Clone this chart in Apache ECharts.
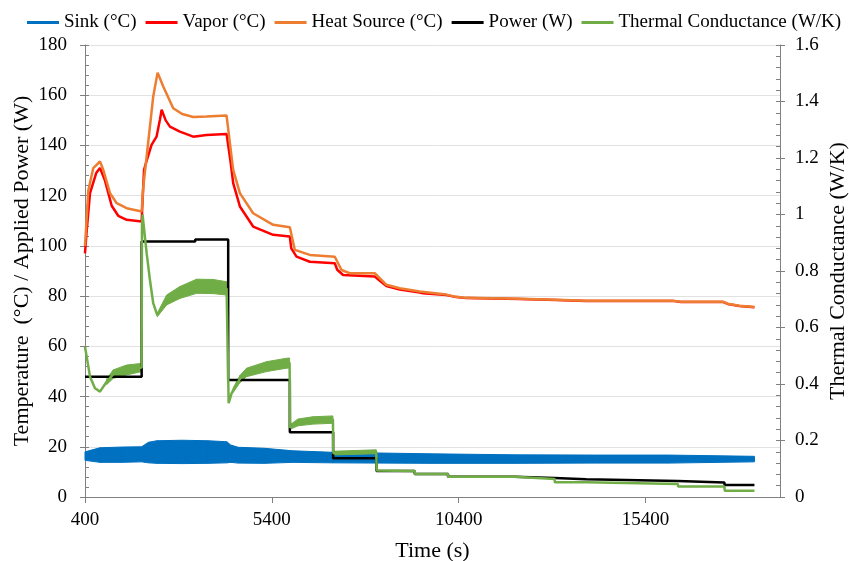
<!DOCTYPE html>
<html>
<head>
<meta charset="utf-8">
<script src="https://cdn.jsdelivr.net/npm/echarts@6/dist/echarts.min.js"></script>
<style>html,body{margin:0;padding:0;background:#fff}#c{width:849px;height:561px}</style>
</head>
<body>
<div id="c"></div>
<script>
// ---------- data ----------
const xTicks = [400, 5400, 10400, 15400];

const sinkT  = [400, 801, 1400, 1916, 2100, 2325, 3000, 3700, 4195, 4300, 4500, 5200, 5960, 7030, 9625, 11900, 14000, 16000, 18316];
const sinkLo = [14.6, 13.8, 13.8, 14.0, 13.6, 13.4, 13.3, 13.4, 13.6, 13.8, 13.5, 13.4, 13.8, 13.6, 13.4, 13.4, 13.5, 13.5, 14.0];
const sinkHi = [18.0, 19.6, 19.9, 20.0, 21.8, 22.4, 22.6, 22.4, 22.0, 20.7, 19.8, 19.4, 18.4, 17.8, 17.2, 16.8, 16.7, 16.7, 16.2];

const vaporT = [400, 445, 534, 700, 801, 935, 1114, 1290, 1515, 1916, 1940, 1980, 2031, 2181, 2315, 2405, 2451, 2560, 2673, 2940, 3296, 3654, 4189, 4232, 4300, 4366, 4545, 4900, 5435, 5882, 5920, 6061, 6417, 7085, 7150, 7307, 8155, 8300, 8467, 8823, 9358, 9447, 10070, 10337, 10600, 12030, 13000, 13813, 16130, 16350, 17470, 17600, 17910, 18316];
const vapor  = [97, 106, 121, 129, 131, 126, 116, 112, 110.4, 109.7, 118, 130.3, 133, 140.2, 143.5, 150.2, 154.2, 150, 147.5, 145.5, 143.5, 144.2, 144.6, 144, 133, 125, 115.7, 107.7, 104.4, 103.7, 99, 95.7, 93.7, 93.1, 90.5, 88.4, 87.8, 86, 84, 82.6, 81.4, 81.1, 80.4, 79.6, 79.2, 78.8, 78.5, 78.1, 78.1, 77.7, 77.7, 76.9, 76.1, 75.6];

const heatT = [400, 427, 488, 622, 801, 889, 1069, 1248, 1515, 1916, 1960, 2050, 2138, 2226, 2343, 2494, 2761, 3000, 3296, 3654, 4189, 4232, 4277, 4366, 4545, 4900, 5435, 5882, 6015, 6417, 7085, 7264, 7486, 8155, 8467, 8823, 9358, 10070, 10337, 10600, 12030, 13000, 13813, 16130, 16350, 17470, 17600, 17910, 18316];
const heat  = [100, 106.5, 122, 131, 133.6, 130.3, 121, 117, 115, 113.7, 123.6, 135.6, 147.5, 159.5, 169, 163.5, 154.8, 152.5, 151.3, 151.5, 151.9, 151.5, 141, 130.3, 121, 113, 108.4, 107.4, 98.4, 96.4, 95.7, 90.4, 89.1, 89.1, 84.5, 83.1, 81.8, 80.6, 79.7, 79.3, 78.9, 78.6, 78.2, 78.2, 77.8, 77.8, 77, 76.2, 75.7];

const powerT = [400, 1916, 3350, 4232, 5882, 7040, 8200, 9224, 10115, 11898, 12968, 13813, 16266, 17514, 18316];
const power  = [47.9, 101.7, 102.5, 46.6, 25.8, 15.4, 10.4, 9.2, 8.1, 7.6, 7.1, 6.4, 5.8, 4.8, 4.8];

const gcT = [400, 445, 534, 667, 801, 980, 1157, 1512, 1916, 1925, 1940, 2004, 2050, 2138, 2226, 2333, 2585, 2940, 3387, 3830, 4189, 4232, 4245, 4323, 4366, 4545, 4724, 5258, 5793, 5875, 5890, 6100, 6500, 7035, 7045, 8195, 8205, 9224, 9230, 10115, 10120, 11898, 11905, 12968, 12975, 13813, 13820, 16266, 16275, 17514, 17520, 18316];
const gc  = [0.532, 0.497, 0.426, 0.385, 0.373, 0.408, 0.435, 0.45, 0.458, 0.96, 1.0, 0.92, 0.863, 0.768, 0.686, 0.644, 0.698, 0.724, 0.746, 0.745, 0.738, 0.735, 0.332, 0.367, 0.378, 0.418, 0.441, 0.462, 0.474, 0.475, 0.245, 0.264, 0.271, 0.274, 0.155, 0.16, 0.094, 0.092, 0.081, 0.081, 0.072, 0.072, 0.065, 0.064, 0.052, 0.052, 0.045, 0.046, 0.037, 0.037, 0.022, 0.022];

// noisy envelope of the thermal conductance trace
const gbA_T = [980, 1157, 1512, 1916];
const gbA_lo = [0.398, 0.42, 0.432, 0.444];
const gbA_hi = [0.418, 0.45, 0.467, 0.473];
const gbB_T = [2333, 2585, 2940, 3387, 3830, 4189, 4232];
const gbB_lo = [0.638, 0.68, 0.703, 0.721, 0.72, 0.715, 0.713];
const gbB_hi = [0.65, 0.715, 0.745, 0.771, 0.77, 0.762, 0.76];
const gbC_T = [4366, 4545, 4724, 5258, 5793, 5875];
const gbC_lo = [0.37, 0.405, 0.426, 0.444, 0.456, 0.457];
const gbC_hi = [0.386, 0.43, 0.456, 0.479, 0.491, 0.492];
const gbD_T = [5890, 6100, 6500, 7035];
const gbD_lo = [0.24, 0.252, 0.258, 0.261];
const gbD_hi = [0.256, 0.276, 0.284, 0.287];
const gbE_T = [7045, 8195];
const gbE_lo = [0.149, 0.153];
const gbE_hi = [0.162, 0.167];

// ---------- chart ----------
const FONT = "'Liberation Serif', 'Times New Roman', serif";
const C = { sink: '#0070C0', vapor: '#FF0000', heat: '#ED7D31', power: '#000000', gc: '#70AD47' };
const AX = '#808080';
const zip = (t, v) => t.map((x, i) => [x, v[i]]);

function band(t, lo, hi, color, yAxisIndex) {
  const data = t.map((x, i) => [x, lo[i], hi[i]]);
  return {
    type: 'custom', yAxisIndex, silent: true, animation: false,
    data, encode: { x: 0, y: [1, 2] },
    renderItem(params, api) {
      const i = params.dataIndex;
      if (i >= data.length - 1) return null;
      const a = data[i], b = data[i + 1];
      const pts = [api.coord([a[0], a[1]]), api.coord([b[0], b[1]]), api.coord([b[0], b[2]]), api.coord([a[0], a[2]])];
      return { type: 'polygon', shape: { points: pts }, style: { fill: color, stroke: color, lineWidth: 1 } };
    }
  };
}
function line(name, t, v, color, width, yAxisIndex, extra) {
  return Object.assign({
    name, type: 'line', yAxisIndex, data: zip(t, v), showSymbol: false, symbol: 'none',
    animation: false, itemStyle: { color }, lineStyle: { color, width }
  }, extra || {});
}

const names = ['Sink (°C)', 'Vapor (°C)', 'Heat Source (°C)', 'Power (W)', 'Thermal Conductance (W/K)'];
const sinkMid = sinkLo.map((v, i) => (v + sinkHi[i]) / 2);

const chart = echarts.init(document.getElementById('c'), null, { renderer: 'canvas' });
chart.setOption({
  animation: false,
  backgroundColor: '#fff',
  textStyle: { fontFamily: FONT },
  grid: { left: 85, right: 69, top: 45, bottom: 64, containLabel: false, outerBoundsMode: 'none' },
  legend: {
    data: names, left: 27, top: 13, width: 840, padding: 0, icon: 'rect', itemWidth: 32, itemHeight: 3, itemGap: 9,
    textStyle: { fontSize: 19, fontFamily: FONT, color: '#000' }
  },
  xAxis: [{
    type: 'value', min: 400, max: 19000, interval: 5000,
    axisLine: { show: true, lineStyle: { color: AX, width: 1 } },
    axisTick: { show: true, length: 6, lineStyle: { color: AX } },
    axisLabel: { fontSize: 19, fontFamily: FONT, color: '#000', margin: 14, showMaxLabel: false,
      formatter: v => xTicks.indexOf(v) >= 0 ? String(v) : '' },
    splitLine: { show: false },
    name: 'Time (s)', nameLocation: 'middle', nameGap: 43, nameMoveOverlap: false,
    nameTextStyle: { fontSize: 22, fontFamily: FONT, color: '#000' }
  }, {
    type: 'value', position: 'top', min: 400, max: 19000,
    axisLine: { show: true, lineStyle: { color: AX, width: 1 } },
    axisTick: { show: false }, axisLabel: { show: false }, splitLine: { show: false }
  }],
  yAxis: [{
    type: 'value', position: 'left', min: 0, max: 180, interval: 20,
    axisLine: { show: true, lineStyle: { color: AX } },
    axisTick: { show: true, length: 5, lineStyle: { color: AX } },
    axisLabel: { fontSize: 19, fontFamily: FONT, color: '#000', margin: 18 },
    splitLine: { show: true, lineStyle: { color: '#e2e2e2', width: 1 } },
    name: 'Temperature  (°C) / Applied Power (W)', nameLocation: 'middle', nameGap: 52, nameMoveOverlap: false,
    nameTextStyle: { fontSize: 22, fontFamily: FONT, color: '#000' }
  }, {
    type: 'value', position: 'right', min: 0, max: 1.6, interval: 0.2,
    axisLine: { show: true, lineStyle: { color: AX } },
    axisTick: { show: true, length: 5, lineStyle: { color: AX } },
    axisLabel: { fontSize: 19, fontFamily: FONT, color: '#000', margin: 15 },
    splitLine: { show: false },
    name: 'Thermal Conductance (W/K)', nameLocation: 'middle', nameGap: 47, nameMoveOverlap: false,
    nameTextStyle: { fontSize: 22, fontFamily: FONT, color: '#000' }
  }, {
    type: 'value', position: 'left', min: 0, max: 180, interval: 20,
    axisLine: { show: false },
    axisTick: { show: true, inside: true, length: 4, lineStyle: { color: AX } },
    minorTick: { show: true, splitNumber: 5, length: 4, lineStyle: { color: AX } },
    axisLabel: { show: false }, splitLine: { show: false }
  }, {
    type: 'value', position: 'right', min: 0, max: 1.6, interval: 0.2,
    axisLine: { show: false },
    axisTick: { show: true, inside: true, length: 4, lineStyle: { color: AX } },
    minorTick: { show: true, splitNumber: 5, length: 4, lineStyle: { color: AX } },
    axisLabel: { show: false }, splitLine: { show: false }
  }],
  series: [
    band(sinkT, sinkLo, sinkHi, C.sink, 0),
    line(names[0], sinkT, sinkMid, C.sink, 1, 0),
    line(names[1], vaporT, vapor, C.vapor, 2.5, 0),
    line(names[2], heatT, heat, C.heat, 2.5, 0),
    line(names[3], powerT, power, C.power, 2.5, 0, { step: 'end' }),
    band(gbA_T, gbA_lo, gbA_hi, C.gc, 1),
    band(gbB_T, gbB_lo, gbB_hi, C.gc, 1),
    band(gbC_T, gbC_lo, gbC_hi, C.gc, 1),
    band(gbD_T, gbD_lo, gbD_hi, C.gc, 1),
    band(gbE_T, gbE_lo, gbE_hi, C.gc, 1),
    line(names[4], gcT, gc, C.gc, 2.5, 1)
  ]
});
</script>
</body>
</html>
